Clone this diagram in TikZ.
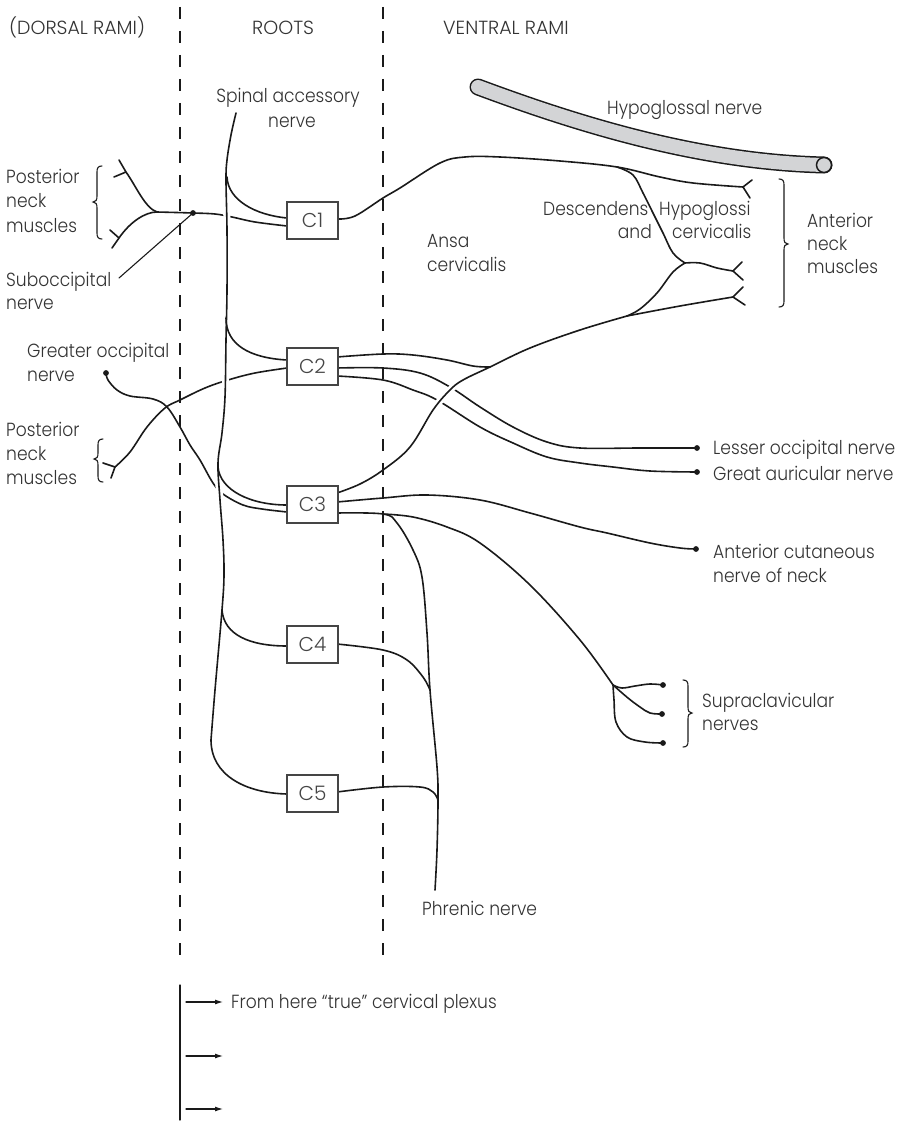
\documentclass[tikz,border=0pt]{standalone}
\usepackage{fontspec}
\setmainfont{Poppins}[UprightFont={* Light}, FakeStretch=0.9]
\newfontfamily\headfont{Poppins}[UprightFont={* Light}]
\usetikzlibrary{arrows.meta}
\definecolor{ink}{HTML}{1A1A1A}
\definecolor{txtc}{HTML}{333333}
\definecolor{boxc}{HTML}{454545}
\definecolor{tubefill}{HTML}{D3D4D6}
\newcommand{\nrvBraceL}[4]{%
 \draw[leader] ({#1+5},#2) .. controls ({#1+1},#2) and (#1,{#2+2}) .. (#1,{#2+6}) -- (#1,{#3-6}) .. controls (#1,{#3-2}) and ({#1-1},#3) .. ({#1-4},#3) .. controls ({#1-1},#3) and (#1,{#3+2}) .. (#1,{#3+6}) -- (#1,{#4-6}) .. controls (#1,{#4-2}) and ({#1+1},#4) .. ({#1+5},#4);}
\newcommand{\nrvBraceR}[4]{%
 \draw[leader] ({#1-5},#2) .. controls ({#1-1},#2) and (#1,{#2+2}) .. (#1,{#2+6}) -- (#1,{#3-6}) .. controls (#1,{#3-2}) and ({#1+1},#3) .. ({#1+4},#3) .. controls ({#1+1},#3) and (#1,{#3+2}) .. (#1,{#3+6}) -- (#1,{#4-6}) .. controls (#1,{#4-2}) and ({#1-1},#4) .. ({#1-5},#4);}
\begin{document}
\begin{tikzpicture}[x=1pt,y=-1pt,
 nerve/.style={draw=ink, line width=1.6pt, line cap=round, line join=round},
 leader/.style={draw=ink, line width=1.1pt, line cap=round},
 halo/.style={preaction={draw=white, line width=7pt}},
 seg/.style={draw=boxc, fill=white, line width=1.3pt, minimum width=51pt, minimum height=37pt, inner sep=0pt, font=\headfont\fontsize{20}{24}\selectfont, text=boxc},
 lbl/.style={inner sep=0pt, anchor=base west, font=\fontsize{19}{24}\selectfont, text=txtc},
 head/.style={lbl, font=\headfont\fontsize{19}{24}\selectfont},
 divider/.style={draw=ink, line width=1.6pt, dash pattern=on 12pt off 12pt}
]
\useasboundingbox (0,0) rectangle (909,1121);

% hypoglossal nerve tube
\draw[line width=17pt, ink, line cap=round] (478,87) .. controls (580,125) and (700,162) .. (824,165);
\draw[line width=14pt, tubefill, line cap=round] (478,87) .. controls (580,125) and (700,162) .. (824,165);
\draw[fill=tubefill, draw=ink, line width=1.5pt] (824,165) circle (7.5pt);

% lines crossing beneath the spinal accessory nerve
\draw[nerve] plot[smooth, tension=0.6] coordinates {(157,212) (193,213) (215,214) (232,217) (255,222) (287,226)};
\draw[nerve] (157,212) .. controls (145,208) and (136,186) .. (126,172);
\draw[nerve] (157,212) .. controls (145,212) and (130,222) .. (119,238);
\draw[nerve] (119,160) -- (126,172) -- (114,177);
\draw[nerve] (110,230) -- (119,238) -- (112,248);
\draw[nerve] plot[smooth, tension=0.6] coordinates {(287,368) (255,373) (228,380) (205,388) (180,400) (165,408) (147,427) (130,452) (115,467)};
\draw[nerve] (103,463) -- (115,467) -- (111,478);
\draw[nerve] plot[smooth, tension=0.6] coordinates {(287,512) (262,509) (243,505) (223,494) (213,483) (200,460) (190,445) (180,427) (167,407) (153,399) (130,396) (117,390) (108,380) (106,373)};

% spinal accessory nerve (vertical)
\draw[nerve, halo] plot[smooth, tension=0.6] coordinates {(236,113) (231,135) (227,160) (226,180) (227,230) (227,290) (226,340) (225,397) (222,433) (218,463) (220,500) (223,540) (224,575) (222,610) (215,690) (211,740)};
\draw[nerve] (211,740) .. controls (211,775) and (245,793) .. (287,794);

% branches to the roots
\draw[nerve] (227,177) .. controls (228,200) and (255,215) .. (287,218);
\draw[nerve] (226,318) .. controls (226,345) and (250,358) .. (287,360);
\draw[nerve] (218,467) .. controls (220,490) and (250,505) .. (287,505);
\draw[nerve] (222,610) .. controls (224,635) and (250,646) .. (287,646);

% C2 lines under the ansa
\draw[nerve] plot[smooth, tension=0.6] coordinates {(337,368) (383,368) (420,373) (450,387) (480,407) (513,427) (547,442) (580,448) (640,448) (697,448)};
\draw[nerve] plot[smooth, tension=0.6] coordinates {(337,376) (383,380) (413,390) (437,400) (480,427) (513,443) (547,457) (580,463) (613,467) (650,471) (697,472)};

% ansa cervicalis (from C3)
\draw[nerve, halo] plot[smooth, tension=0.6] coordinates {(337,493) (360,484) (383,470) (410,447) (433,410) (450,390) (463,380) (490,367) (530,348) (580,330) (627,316)};
\draw[nerve] plot[smooth, tension=0.6] coordinates {(627,316) (680,306) (733,297)};
\draw[nerve] (743,287) -- (733,297) -- (745,305);

% C2 top line
\draw[nerve] plot[smooth, tension=0.6] coordinates {(337,357) (383,354) (413,355) (447,360) (473,366) (490,367)};

% C1 line and descendens
\draw[nerve] plot[smooth, tension=0.6] coordinates {(338,219) (355,216) (383,198) (400,188) (440,163) (465,157) (500,157) (560,161) (617,167) (660,177) (693,183) (743,187)};
\draw[nerve] (752,180) -- (743,187) -- (750,198);
\draw[nerve] plot[smooth, tension=0.6] coordinates {(617,167) (633,175) (643,193) (653,213) (663,233) (673,253) (685,263)};
\draw[nerve] plot[smooth, tension=0.6] coordinates {(685,263) (700,263) (717,268) (733,271)};
\draw[nerve] (742,262) -- (733,271) -- (743,280);
\draw[nerve] plot[smooth, tension=0.6] coordinates {(685,263) (673,272) (657,293) (640,309) (627,316)};

% C3 right lines
\draw[nerve] plot[smooth, tension=0.6] coordinates {(337,502) (383,498) (427,495) (480,500) (530,513) (580,527) (607,533) (650,543) (680,548) (696,549)};
\draw[nerve] plot[smooth, tension=0.6] coordinates {(337,513) (383,514) (397,523) (413,550) (422,577) (427,633) (430,690) (437,767) (438,800) (437,850) (435,890)};
\draw[nerve] plot[smooth, tension=0.6] coordinates {(383,514) (413,517) (447,527) (480,543) (530,585) (580,640) (613,685)};
\draw[nerve] plot[smooth, tension=0.6] coordinates {(613,685) (622,688) (635,686) (650,684) (663,685)};
\draw[nerve] plot[smooth, tension=0.6] coordinates {(613,685) (628,698) (640,707) (650,713) (662,714)};
\draw[nerve] plot[smooth, tension=0.6] coordinates {(613,685) (614,700) (616,722) (627,737) (645,742) (663,743)};

% C4, C5 right lines
\draw[nerve] plot[smooth, tension=0.6] coordinates {(337,644) (383,650) (407,660) (423,677) (430,690)};
\draw[nerve] plot[smooth, tension=0.6] coordinates {(337,792) (383,787) (420,787) (433,792) (438,800)};

% nerve end dots
\coordinate (dSub) at (193,213);
\coordinate (dGO) at (106,373);
\coordinate (dLO) at (697,448);
\coordinate (dGA) at (697,472);
\coordinate (dAC) at (696,549);
\coordinate (dS1) at (663,685);
\coordinate (dS2) at (662,714);
\coordinate (dS3) at (663,743);
\foreach \d in {dSub,dGO,dLO,dGA,dAC,dS1,dS2,dS3} \fill[ink] (\d) circle (2.9pt);
\coordinate (subLbl) at (119,278);
\draw[leader] (dSub) -- (subLbl);

% root boxes
\node[seg] (C1) at (312.5,220.5) {C1};
\node[seg] (C2) at (312.5,366.5) {C2};
\node[seg] (C3) at (312.5,504.5) {C3};
\node[seg] (C4) at (312.5,644.5) {C4};
\node[seg] (C5) at (312.5,793.5) {C5};

% dividers
\draw[divider] (180,7) -- (180,955);
\draw[divider] (383,7) -- (383,955);

% braces
\nrvBraceL{97}{166}{202}{239}
\nrvBraceL{98}{439}{459}{482}
\nrvBraceR{784}{179}{244}{307}
\nrvBraceR{688}{680}{713}{747}

% bottom legend
\draw[leader, line width=1.3pt] (180,985) -- (180,1120);
\draw[leader, -{Latex[length=8pt,width=5pt]}] (186,1002) -- (223,1002);
\draw[leader, -{Latex[length=8pt,width=5pt]}] (186,1056) -- (223,1056);
\draw[leader, -{Latex[length=8pt,width=5pt]}] (186,1109) -- (223,1109);

% texts
\node[head] (hDor) at (9,35) {(DORSAL RAMI)};
\node[head] (hRoo) at (252,35) {ROOTS};
\node[head] (hVen) at (443,35) {VENTRAL RAMI};
\node[lbl, anchor=base] (tSpa1) at (288,103) {Spinal accessory};
\node[lbl, anchor=base] (tSpa2) at (292,128) {nerve};
\node[lbl] (tHyp) at (607,115) {Hypoglossal nerve};
\node[lbl] (tPn1) at (6,183) {Posterior};
\node[lbl] (tPn2) at (6,207) {neck};
\node[lbl] (tPn3) at (6,232) {muscles};
\node[lbl] (tSub1) at (6,286) {Suboccipital};
\node[lbl] (tSub2) at (6,309) {nerve};
\node[lbl] (tGo1) at (27,357) {Greater occipital};
\node[lbl] (tGo2) at (27,381) {nerve};
\node[lbl] (tPm1) at (6,436) {Posterior};
\node[lbl] (tPm2) at (6,460) {neck};
\node[lbl] (tPm3) at (6,484) {muscles};
\node[lbl] (tDes) at (543,215) {Descendens};
\node[lbl] (tHg) at (659,215) {Hypoglossi};
\node[lbl, anchor=base east] (tAnd) at (652,238) {and};
\node[lbl] (tCer) at (672,238) {cervicalis};
\node[lbl] (tAn1) at (427,247) {Ansa};
\node[lbl] (tAn2) at (427,271) {cervicalis};
\node[lbl] (tAm1) at (807,227) {Anterior};
\node[lbl] (tAm2) at (807,250) {neck};
\node[lbl] (tAm3) at (807,273) {muscles};
\node[lbl] (tLO) at (713,454) {Lesser occipital nerve};
\node[lbl] (tGA) at (713,480) {Great auricular nerve};
\node[lbl] (tAC1) at (713,558) {Anterior cutaneous};
\node[lbl] (tAC2) at (713,582) {nerve of neck};
\node[lbl] (tSc1) at (702,707) {Supraclavicular};
\node[lbl] (tSc2) at (702,730) {nerves};
\node[lbl] (tPh) at (422,915) {Phrenic nerve};
\node[lbl] (tFrom) at (231,1008) {From here “true” cervical plexus};
\end{tikzpicture}
\end{document}
